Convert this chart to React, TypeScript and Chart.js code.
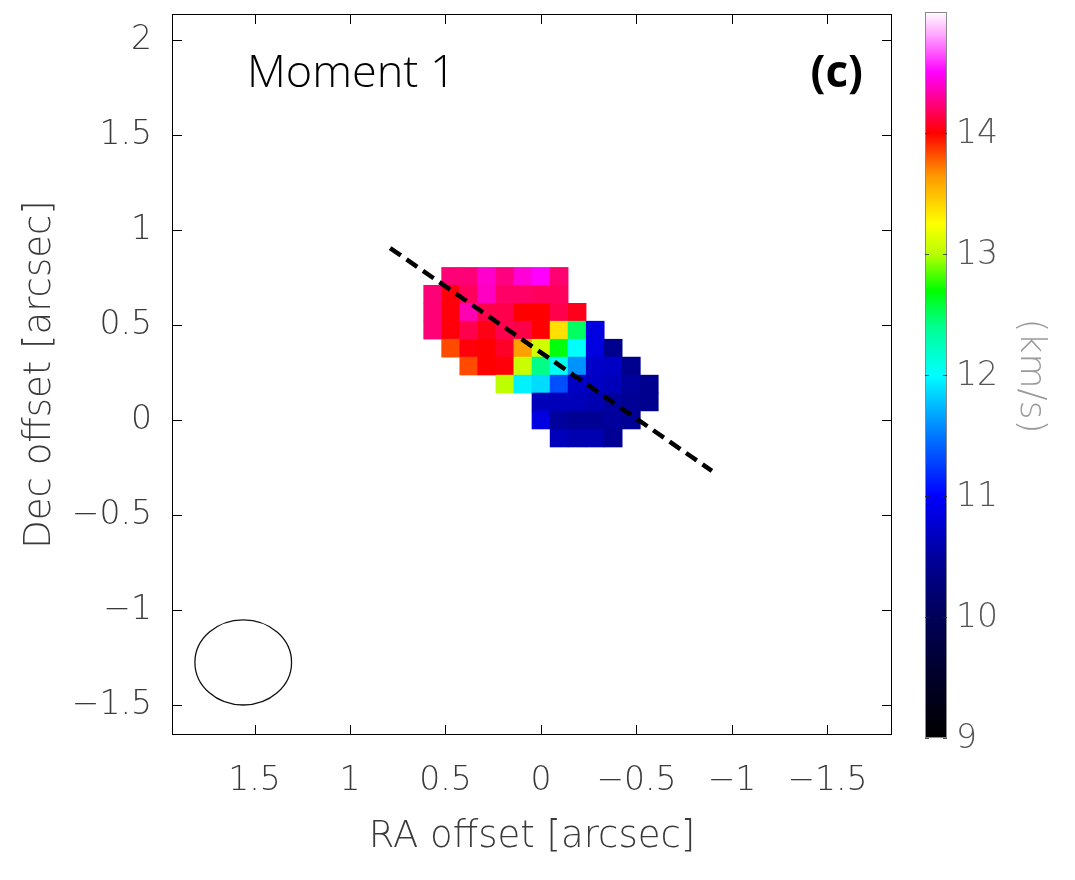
import React, { useEffect, useRef } from 'react';
import { Chart, registerables } from 'chart.js';

Chart.register(...registerables);

// Axis extents (arcsec); RA increases to the left
const RA_MIN = -1.838;
const RA_MAX = 1.932;
const DEC_MIN = -1.658;
const DEC_MAX = 2.137;
const X_TICKS = [1.5, 1, 0.5, 0, -0.5, -1, -1.5];
const Y_TICKS = [2, 1.5, 1, 0.5, 0, -0.5, -1, -1.5];

// Map pixel grid (centres, arcsec)
const PIXEL_SIZE = 0.0945;
const RA_CENTERS = [0.567, 0.473, 0.378, 0.284, 0.189, 0.095, 0, -0.095, -0.189, -0.284, -0.378, -0.473, -0.567];
const DEC_CENTERS = [0.756, 0.662, 0.567, 0.473, 0.378, 0.284, 0.189, 0.095, 0, -0.095];

// Intensity-weighted velocity (km/s), one row per Dec, one column per RA; null = blanked
const _ = null;
const VELOCITY: (number | null)[][] = [
  [_, 14.23, 14.23, 14.4, 14.25, 14.42, 14.5, 14.22, _, _, _, _, _],
  [14.23, 14.02, 14.18, 14.38, 14.2, 14.2, 14.18, 14.18, _, _, _, _, _],
  [14.23, 14.02, 14.35, 14.15, 14.15, 14.0, 14.0, 14.15, 14.05, _, _, _, _],
  [14.23, 14.02, 14.15, 14.04, 14.15, 14.14, 14.0, 13.37, 12.5, 10.85, _, _, _],
  [_, 13.83, 14.02, 14.0, 14.08, 13.62, 13.08, 12.68, 12.0, 10.85, 10.4, _, _],
  [_, _, 13.83, 14.0, 14.02, 13.06, 12.42, 12.05, 11.6, 10.72, 10.7, 10.4, _],
  [_, _, _, _, 13.02, 11.95, 11.87, 11.33, 10.7, 10.7, 10.65, 10.5, 10.4],
  [_, _, _, _, _, _, 10.65, 10.65, 10.65, 10.6, 10.5, 10.45, 10.4],
  [_, _, _, _, _, _, 10.85, 10.5, 10.45, 10.45, 10.5, 10.45, _],
  [_, _, _, _, _, _, _, 10.65, 10.6, 10.6, 10.45, _, _],
];

// Cut along the velocity gradient
const CUT_RA = [0.79, -0.895];
const CUT_DEC = [0.905, -0.268];

// Synthesized beam: centre and semi-axes (arcsec)
const BEAM_RA = 1.559;
const BEAM_DEC = -1.276;
const BEAM_SEMI_RA = 0.253;
const BEAM_SEMI_DEC = 0.224;

// Colour scale
const CBAR_MIN = 9;
const CBAR_MAX = 15;
const CBAR_TICKS = [14, 13, 12, 11, 10, 9];
const COLOR_STOPS: [number, string][] = [
  [9.0, '#000000'],
  [9.5, '#000028'],
  [10.0, '#000058'],
  [10.5, '#00009c'],
  [11.0, '#0000ff'],
  [11.5, '#0078ff'],
  [12.0, '#00ffff'],
  [12.4, '#00ff90'],
  [12.7, '#00ff00'],
  [13.0, '#b8ff00'],
  [13.25, '#ffff00'],
  [13.65, '#ff9800'],
  [14.0, '#ff0000'],
  [14.25, '#ff0080'],
  [14.5, '#ff00ff'],
  [14.8, '#ffa0ff'],
  [15.0, '#ffffff'],
];

const TICK_FONT = { family: '"DejaVu Sans", sans-serif', size: 33, weight: 200 as any };
const TITLE_FONT = { family: '"DejaVu Sans", sans-serif', size: 37, weight: 200 as any };
const INK = '#3a3a3a';

function hexToRgb(h: string): number[] {
  return [parseInt(h.slice(1, 3), 16), parseInt(h.slice(3, 5), 16), parseInt(h.slice(5, 7), 16)];
}

function velocityColor(v: number): string {
  if (v <= COLOR_STOPS[0][0]) return COLOR_STOPS[0][1];
  for (let i = 1; i < COLOR_STOPS.length; i++) {
    const [v1, c1] = COLOR_STOPS[i];
    if (v <= v1) {
      const [v0, c0] = COLOR_STOPS[i - 1];
      const t = (v - v0) / (v1 - v0);
      const a = hexToRgb(c0);
      const b = hexToRgb(c1);
      const rgb = a.map((x, k) => Math.round(x + (b[k] - x) * t));
      return `rgb(${rgb[0]},${rgb[1]},${rgb[2]})`;
    }
  }
  return COLOR_STOPS[COLOR_STOPS.length - 1][1];
}

function fmt(v: number): string {
  return (v < 0 ? '\u2212' : '') + String(Math.abs(v));
}

// Velocity map cells, drawn beneath the cut line
const mapPlugin = {
  id: 'velocityMap',
  beforeDatasetsDraw(chart: any) {
    const { ctx, chartArea, scales } = chart;
    const xs = scales.x;
    const ys = scales.y;
    ctx.save();
    ctx.beginPath();
    ctx.rect(chartArea.left, chartArea.top, chartArea.right - chartArea.left, chartArea.bottom - chartArea.top);
    ctx.clip();
    const h = PIXEL_SIZE / 2;
    VELOCITY.forEach((row, r) => {
      row.forEach((v, c) => {
        if (v === null) return;
        const xa = xs.getPixelForValue(RA_CENTERS[c] + h);
        const xb = xs.getPixelForValue(RA_CENTERS[c] - h);
        const ya = ys.getPixelForValue(DEC_CENTERS[r] + h);
        const yb = ys.getPixelForValue(DEC_CENTERS[r] - h);
        ctx.fillStyle = velocityColor(v);
        const l = Math.min(xa, xb);
        const t = Math.min(ya, yb);
        ctx.fillRect(l - 0.3, t - 0.3, Math.abs(xb - xa) + 0.6, Math.abs(yb - ya) + 0.6);
      });
    });
    ctx.restore();
  },
};

// Frame with inward ticks, beam, labels and colour bar
const decorPlugin = {
  id: 'decor',
  afterDraw(chart: any) {
    const { ctx, chartArea, scales } = chart;
    const xs = scales.x;
    const ys = scales.y;
    const { left, right, top, bottom } = chartArea;
    ctx.save();

    // beam
    ctx.strokeStyle = '#111';
    ctx.lineWidth = 1.3;
    const bx = xs.getPixelForValue(BEAM_RA);
    const by = ys.getPixelForValue(BEAM_DEC);
    const rx = Math.abs(xs.getPixelForValue(BEAM_RA + BEAM_SEMI_RA) - bx);
    const ry = Math.abs(ys.getPixelForValue(BEAM_DEC + BEAM_SEMI_DEC) - by);
    ctx.beginPath();
    ctx.ellipse(bx, by, rx, ry, 0, 0, Math.PI * 2);
    ctx.stroke();

    // frame
    ctx.strokeStyle = '#000';
    ctx.lineWidth = 1;
    ctx.strokeRect(left + 0.5, top + 0.5, right - left - 1, bottom - top - 1);
    const TL = 10;
    ctx.beginPath();
    X_TICKS.forEach((v) => {
      const px = Math.round(xs.getPixelForValue(v)) + 0.5;
      ctx.moveTo(px, bottom);
      ctx.lineTo(px, bottom - TL);
      ctx.moveTo(px, top);
      ctx.lineTo(px, top + TL);
    });
    Y_TICKS.forEach((v) => {
      const py = Math.round(ys.getPixelForValue(v)) + 0.5;
      ctx.moveTo(left, py);
      ctx.lineTo(left + TL, py);
      ctx.moveTo(right, py);
      ctx.lineTo(right - TL, py);
    });
    ctx.stroke();

    // panel labels
    ctx.fillStyle = '#000';
    ctx.textBaseline = 'alphabetic';
    ctx.textAlign = 'left';
    ctx.font = '300 45px "Open Sans", sans-serif';
    ctx.fillText('Moment 1', 247, 87);
    ctx.textAlign = 'right';
    ctx.font = 'bold 44px "Open Sans", sans-serif';
    ctx.fillText('(c)', 863, 87);

    // colour bar
    const cbL = 925;
    const cbR = 947;
    const cbT = 12;
    const cbB = 738;
    const vy = (v: number) => cbB - ((v - CBAR_MIN) / (CBAR_MAX - CBAR_MIN)) * (cbB - cbT);
    const grad = ctx.createLinearGradient(0, cbB, 0, cbT);
    COLOR_STOPS.forEach(([v, c]) => grad.addColorStop((v - CBAR_MIN) / (CBAR_MAX - CBAR_MIN), c));
    ctx.fillStyle = grad;
    ctx.fillRect(cbL, cbT, cbR - cbL, cbB - cbT);
    ctx.strokeStyle = '#8a8a8a';
    ctx.lineWidth = 1;
    ctx.strokeRect(cbL + 0.5, cbT + 0.5, cbR - cbL - 1, cbB - cbT - 1);
    ctx.strokeStyle = 'rgba(40,40,40,0.8)';
    ctx.beginPath();
    CBAR_TICKS.forEach((v) => {
      const py = Math.round(vy(v)) + 0.5;
      ctx.moveTo(cbL, py);
      ctx.lineTo(cbL + 4, py);
      ctx.moveTo(cbR, py);
      ctx.lineTo(cbR - 4, py);
    });
    ctx.stroke();
    ctx.fillStyle = '#555';
    ctx.font = `200 33px "DejaVu Sans", sans-serif`;
    ctx.textAlign = 'left';
    ctx.textBaseline = 'middle';
    CBAR_TICKS.forEach((v) => {
      ctx.fillText(String(v), 956, vy(v) + 1);
    });
    ctx.save();
    ctx.translate(1030, 376);
    ctx.rotate(Math.PI / 2);
    ctx.textAlign = 'center';
    ctx.fillStyle = '#9a9a9a';
    ctx.font = `200 36px "DejaVu Sans", sans-serif`;
    ctx.fillText('(km/s)', 0, 0);
    ctx.restore();

    ctx.restore();
  },
};

export default function App() {
  const canvasRef = useRef<HTMLCanvasElement | null>(null);

  useEffect(() => {
    document.body.style.margin = '0';
    const canvas = canvasRef.current;
    if (!canvas) return;
    const chart = new Chart(canvas, {
      type: 'scatter',
      data: {
        datasets: [
          {
            data: CUT_RA.map((ra, i) => ({ x: ra, y: CUT_DEC[i] })),
            showLine: true,
            borderColor: '#000',
            borderWidth: 4.5,
            borderDash: [13, 7],
            pointRadius: 0,
            fill: false,
          },
        ],
      },
      options: {
        responsive: false,
        animation: false,
        layout: { padding: { left: 0, right: 183, top: 14, bottom: 0 } },
        plugins: { legend: { display: false }, tooltip: { enabled: false } },
        scales: {
          x: {
            type: 'linear',
            reverse: true,
            min: RA_MIN,
            max: RA_MAX,
            afterBuildTicks: (s: any) => {
              s.ticks = X_TICKS.map((v) => ({ value: v }));
            },
            afterFit: (s: any) => {
              s.height = 145;
              s.paddingLeft = 0;
              s.paddingRight = 0;
            },
            grid: { display: false },
            border: { display: false },
            ticks: {
              font: TICK_FONT,
              color: INK,
              padding: 19,
              maxRotation: 0,
              autoSkip: false,
              callback: (v: any) => fmt(Number(v)),
            },
            title: {
              display: true,
              text: 'RA offset [arcsec]',
              font: TITLE_FONT,
              color: INK,
              padding: { top: 0, bottom: 20 },
            },
          },
          y: {
            type: 'linear',
            min: DEC_MIN,
            max: DEC_MAX,
            afterBuildTicks: (s: any) => {
              s.ticks = Y_TICKS.map((v) => ({ value: v }));
            },
            afterFit: (s: any) => {
              s.width = 172;
              s.paddingTop = 0;
              s.paddingBottom = 0;
            },
            grid: { display: false },
            border: { display: false },
            ticks: {
              font: TICK_FONT,
              color: INK,
              padding: 12,
              autoSkip: false,
              callback: (v: any) => fmt(Number(v)),
            },
            title: {
              display: true,
              text: 'Dec offset [arcsec]',
              font: TITLE_FONT,
              color: INK,
              padding: { top: 18, bottom: 0 },
            },
          },
        },
      } as any,
      plugins: [mapPlugin, decorPlugin],
    });
    return () => chart.destroy();
  }, []);

  return (
    <div style={{ width: 1075, height: 880, background: '#fff' }}>
      <canvas ref={canvasRef} width={1075} height={880} style={{ display: 'block' }} />
    </div>
  );
}
